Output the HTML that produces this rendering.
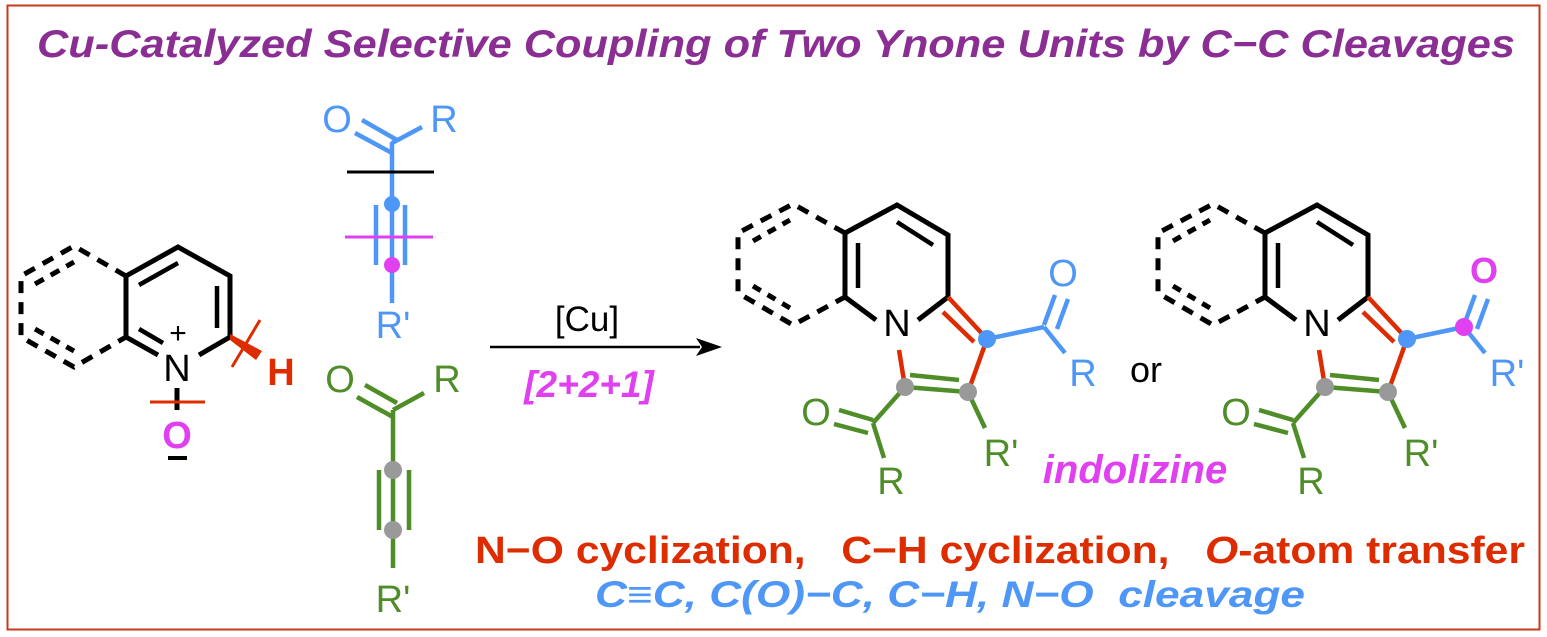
<!DOCTYPE html>
<html><head><meta charset="utf-8"><style>
html,body{margin:0;padding:0;background:#fff;width:1547px;height:637px;overflow:hidden}
svg{display:block}
text{font-family:"Liberation Sans",sans-serif}
</style></head><body>
<svg width="1547" height="637" viewBox="0 0 1547 637" xmlns="http://www.w3.org/2000/svg">
<rect x="7.5" y="5.5" width="1532" height="624" fill="none" stroke="#c8391c" stroke-width="2"/>
<text x="37" y="57" textLength="1478" lengthAdjust="spacingAndGlyphs" font-size="39" font-weight="bold" font-style="italic" fill="#8a2e93">Cu-Catalyzed Selective Coupling of Two Ynone Units by C−C Cleavages</text>

<!-- left N-oxide -->
<g stroke="#000" stroke-width="5" fill="none">
<polyline points="126,337 126,276 178,247 230,276 230,337"/>
<line x1="230" y1="337" x2="199" y2="355"/>
<line x1="126" y1="337" x2="158" y2="355"/>
<line x1="139" y1="285" x2="178" y2="263" stroke-width="4.5"/>
<line x1="217" y1="286" x2="217" y2="328" stroke-width="4.5"/>
<line x1="139" y1="329" x2="163" y2="343" stroke-width="4.5"/>
<polyline points="126,276 74,246 21,276 21,337 74,367 126,337" stroke-dasharray="12,9"/>
<line x1="35" y1="284" x2="74" y2="262" stroke-dasharray="10,8"/>
<line x1="35" y1="329" x2="74" y2="351" stroke-dasharray="10,8"/>
<line x1="177" y1="388" x2="177" y2="410"/>
</g>
<text x="177" y="381" text-anchor="middle" font-size="38" fill="#000">N</text>
<text x="178" y="343" text-anchor="middle" font-size="30" fill="#000">+</text>
<line x1="150" y1="402" x2="205" y2="402" stroke="#dd2c00" stroke-width="3"/>
<text x="177" y="448" text-anchor="middle" font-size="38" font-weight="bold" fill="#e040f0">O</text>
<line x1="168" y1="458" x2="187" y2="458" stroke="#000" stroke-width="4"/>
<polygon points="230,334 230,340 256,360 262,351" fill="#dd2c00"/>
<line x1="260" y1="320" x2="232" y2="367" stroke="#dd2c00" stroke-width="3"/>
<text x="281" y="385" text-anchor="middle" font-size="38" font-weight="bold" fill="#dd2c00">H</text>

<!-- blue ynone -->
<g stroke="#4f97f7" stroke-width="4.5" fill="none">
<line x1="392" y1="142" x2="392" y2="303"/>
<line x1="355" y1="133" x2="392" y2="153"/>
<line x1="362" y1="120" x2="397" y2="140"/>
<line x1="392" y1="143" x2="422" y2="127"/>
<line x1="376" y1="205" x2="376" y2="265"/>
<line x1="405" y1="205" x2="405" y2="265"/>
</g>
<text x="337" y="132" text-anchor="middle" font-size="38" fill="#4f97f7">O</text>
<text x="444" y="132" text-anchor="middle" font-size="38" fill="#4f97f7">R</text>
<line x1="347" y1="172" x2="434" y2="172" stroke="#000" stroke-width="3"/>
<line x1="345" y1="237" x2="433" y2="237" stroke="#e040f0" stroke-width="3"/>
<circle cx="392" cy="204" r="8" fill="#4f97f7"/>
<circle cx="392" cy="265" r="8" fill="#e040f0"/>
<text x="393" y="338" text-anchor="middle" font-size="38" fill="#4f97f7">R'</text>

<!-- green ynone -->
<g stroke="#4e8d27" stroke-width="4.5" fill="none">
<line x1="393" y1="410" x2="393" y2="568"/>
<line x1="357" y1="397" x2="393" y2="417"/>
<line x1="365" y1="385" x2="397" y2="403"/>
<line x1="393" y1="410" x2="424" y2="393"/>
<line x1="379" y1="470" x2="379" y2="530"/>
<line x1="409" y1="470" x2="409" y2="530"/>
</g>
<text x="340" y="392" text-anchor="middle" font-size="38" fill="#4e8d27">O</text>
<text x="447" y="392" text-anchor="middle" font-size="38" fill="#4e8d27">R</text>
<circle cx="393" cy="470" r="9" fill="#999"/>
<circle cx="393" cy="530" r="9" fill="#999"/>
<text x="393" y="612" text-anchor="middle" font-size="38" fill="#4e8d27">R'</text>

<!-- arrow -->
<line x1="490" y1="347" x2="700" y2="347" stroke="#000" stroke-width="2.5"/>
<polygon points="722,347 696,338 702,347 696,356" fill="#000"/>
<text x="587" y="331" text-anchor="middle" font-size="35" fill="#000">[Cu]</text>
<text x="589" y="397" text-anchor="middle" font-size="37" font-weight="bold" font-style="italic" fill="#e040f0">[2+2+1]</text>

<!-- products -->
<defs>
<g id="core">
<g stroke="#000" stroke-width="5" fill="none">
<polyline points="845,297 845,233 897,205 948,235 948,297"/>
<line x1="845" y1="297" x2="876" y2="320"/>
<line x1="948" y1="297" x2="918" y2="320"/>
<line x1="858" y1="243" x2="858" y2="288" stroke-width="4.5"/>
<line x1="897" y1="222" x2="933" y2="245" stroke-width="4.5"/>
<polyline points="845,233 793,204 738,233 738,293 793,325 845,297" stroke-dasharray="12,9"/>
<line x1="753" y1="241" x2="790" y2="220" stroke-dasharray="9,8"/>
<line x1="753" y1="286" x2="790" y2="308" stroke-dasharray="9,8"/>
</g>
<text x="897" y="336" text-anchor="middle" font-size="38" fill="#000">N</text>
<g stroke="#dd2c00" stroke-width="4.5">
<line x1="948" y1="297" x2="987" y2="339"/>
<line x1="943" y1="312" x2="974" y2="342"/>
<line x1="987" y1="339" x2="968" y2="392"/>
<line x1="899" y1="350" x2="905" y2="387"/>
</g>
<g stroke="#4e8d27" stroke-width="4.5" fill="none">
<line x1="905" y1="387" x2="968" y2="392"/>
<line x1="910" y1="375" x2="959" y2="380"/>
<line x1="905" y1="387" x2="873" y2="423"/>
<line x1="873" y1="423" x2="884" y2="458"/>
<line x1="839" y1="410" x2="873" y2="420"/>
<line x1="834" y1="424" x2="868" y2="433"/>
<line x1="968" y1="392" x2="985" y2="428"/>
</g>
<circle cx="905" cy="387" r="9" fill="#999"/>
<circle cx="968" cy="392" r="9" fill="#999"/>
<text x="816" y="425" text-anchor="middle" font-size="38" fill="#4e8d27">O</text>
<text x="891" y="494" text-anchor="middle" font-size="38" fill="#4e8d27">R</text>
<text x="1001" y="466" text-anchor="middle" font-size="38" fill="#4e8d27">R'</text>
<g stroke="#4f97f7" stroke-width="4.5">
<line x1="987" y1="339" x2="1044" y2="327"/>
<line x1="1044" y1="327" x2="1065" y2="353"/>
<line x1="1044" y1="325" x2="1055" y2="295"/>
<line x1="1057" y1="329" x2="1068" y2="299"/>
</g>
<circle cx="987" cy="339" r="9" fill="#4f97f7"/>
</g>
</defs>
<use href="#core"/>
<text x="1063" y="286" text-anchor="middle" font-size="38" fill="#4f97f7">O</text>
<text x="1083" y="386" text-anchor="middle" font-size="38" fill="#4f97f7">R</text>
<text x="1146" y="382" text-anchor="middle" font-size="36" fill="#000">or</text>
<text x="1135" y="483" text-anchor="middle" font-size="40" font-weight="bold" font-style="italic" fill="#e040f0">indolizine</text>
<use href="#core" x="420"/>
<circle cx="1464" cy="327" r="9" fill="#e040f0"/>
<text x="1484" y="283" text-anchor="middle" font-size="36" font-weight="bold" fill="#e040f0">O</text>
<text x="1507" y="386" text-anchor="middle" font-size="38" fill="#4f97f7">R'</text>

<!-- bottom text -->
<text x="475" y="563" textLength="1050" lengthAdjust="spacingAndGlyphs" font-size="38" font-weight="bold" fill="#dd2c00" xml:space="preserve">N−O cyclization,   C−H cyclization,   <tspan font-style="italic">O</tspan>-atom transfer</text>
<text x="595" y="607" textLength="710" lengthAdjust="spacingAndGlyphs" font-size="37" font-weight="bold" font-style="italic" fill="#4f97f7" xml:space="preserve">C≡C, C(O)−C, C−H, N−O  cleavage</text>
</svg>
</body></html>
